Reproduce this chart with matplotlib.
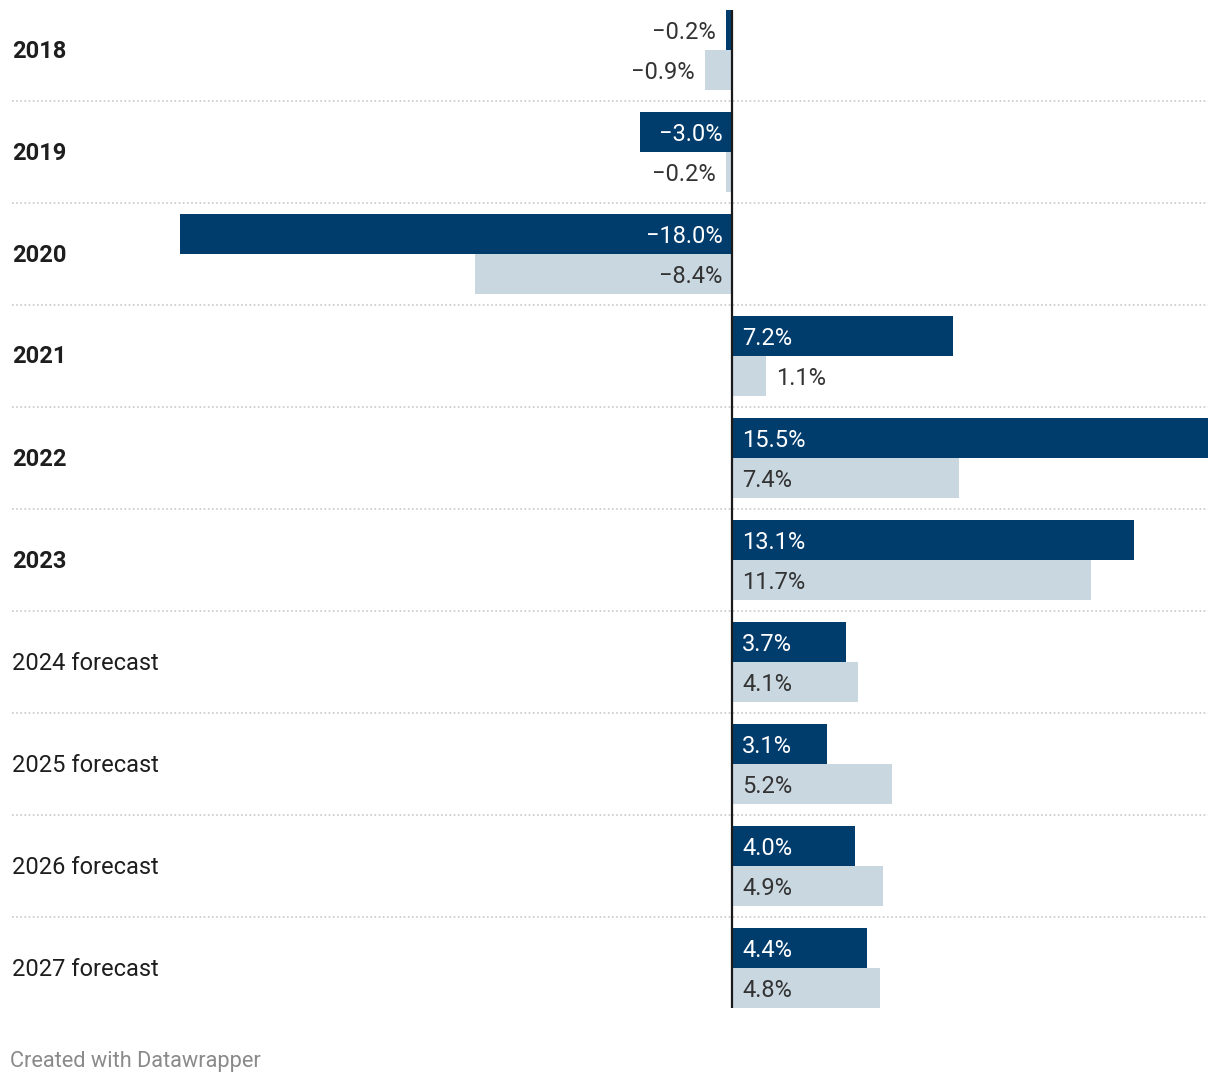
import matplotlib.pyplot as plt
import numpy as np

plt.rcParams['font.family'] = ['Roboto', 'DejaVu Sans']

# data
years = ['2018', '2019', '2020', '2021', '2022', '2023',
         '2024 forecast', '2025 forecast', '2026 forecast', '2027 forecast']
bold_rows = [True, True, True, True, True, True, False, False, False, False]
series_dark = [-0.2, -3.0, -18.0, 7.2, 15.5, 13.1, 3.7, 3.1, 4.0, 4.4]
series_light = [-0.9, -0.2, -8.4, 1.1, 7.4, 11.7, 4.1, 5.2, 4.9, 4.8]

DARK = '#003c6c'
LIGHT = '#c9d7e1'
TEXT = '#333333'

W, H = 1220, 1084
fig = plt.figure(figsize=(W / 100, H / 100), dpi=100)

# axes placed in pixel terms: x from 180 to 1208, y from 10 to 1008
ax = fig.add_axes([180 / W, (H - 1008) / H, (1208 - 180) / W, 998 / H])
bh = 40 / 102
ax.set_xlim(-18.0, 15.5)
ax.set_ylim(len(years) - 1 + bh, -bh)
ax.axis('off')

pos = np.arange(len(years))
ax.barh(pos - bh / 2, series_dark, height=bh, color=DARK, linewidth=0)
ax.barh(pos + bh / 2, series_light, height=bh, color=LIGHT, linewidth=0)

# zero line
ax.axvline(0, color='#1a1a1a', lw=1.6, zorder=5)

# dotted separators
for i in range(len(years) - 1):
    ax.axhline(i + 0.5, xmin=(12 - 180) / 1028, xmax=1.0, color='#c8c8c8',
               lw=1.2, ls=(0, (1, 1.5)), clip_on=False, zorder=1)

px_per_unit = 1028 / 33.5
fig.canvas.draw()
renderer = fig.canvas.get_renderer()
FS = 17


def label_bar(v, y, inside_color):
    txt = ('\u2212' if v < 0 else '') + f'{abs(v):.1f}%'
    t = ax.text(0, y, txt, fontsize=FS)
    w = t.get_window_extent(renderer).width
    t.remove()
    bar_w = abs(v) * px_per_unit
    inside = w + 20 <= bar_w
    if v < 0:
        ha = 'right'
        off = -10 if inside else -(bar_w + 10)
    else:
        ha = 'left'
        off = 10 if inside else bar_w + 10
    ax.annotate(txt, (0, y), xytext=(off * 0.72, -1.6), textcoords='offset points',
                ha=ha, va='center', fontsize=FS,
                color=inside_color if inside else TEXT, zorder=6)


for i in range(len(years)):
    label_bar(series_dark[i], i - bh / 2, 'white')
    label_bar(series_light[i], i + bh / 2, TEXT)
    fig.text(12 / W, 1 - (51 + 102 * i) / H, years[i], fontsize=FS,
             fontweight='bold' if bold_rows[i] else 'normal',
             color='#1e1e1e', ha='left', va='center')

fig.text(10 / W, 1 - 1061 / H, 'Created with Datawrapper', fontsize=15.7,
         color='#8a8a8a', ha='left', va='center')

fig.savefig('out.png', dpi=100)
